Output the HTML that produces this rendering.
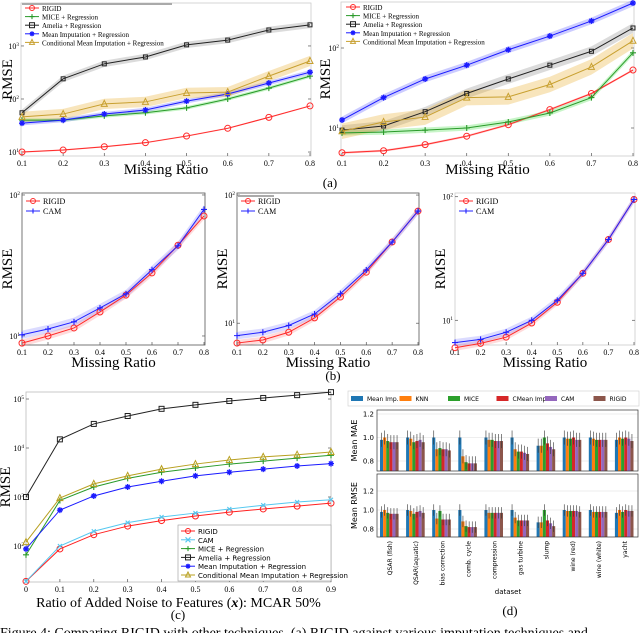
<!DOCTYPE html>
<html><head><meta charset="utf-8"><style>
html,body{margin:0;padding:0;background:#fff}
svg{display:block}
.serif{font-family:"Liberation Serif",serif}
.sans{font-family:"DejaVu Sans","Liberation Sans",sans-serif}
</style></head><body>
<svg id="fig" width="640" height="633" viewBox="0 0 640 633" xmlns="http://www.w3.org/2000/svg">
<text class="serif" x="330" y="187" font-size="13" text-anchor="middle">(a)</text>
<text class="serif" x="333" y="380" font-size="13" text-anchor="middle">(b)</text>
<text class="serif" x="178" y="619" font-size="13" text-anchor="middle">(c)</text>
<text class="serif" x="510" y="615" font-size="13" text-anchor="middle">(d)</text>
<text class="serif" x="0" y="637" font-size="14">Figure 4: Comparing RIGID with other techniques. (a) RIGID against various imputation techniques and</text>
</svg>
<script>
const ratios=[0.1,0.2,0.3,0.4,0.5,0.6,0.7,0.8];
const ratioLabels=["0.1","0.2","0.3","0.4","0.5","0.6","0.7","0.8"];
// (a) left
const aLRigid=[10,10.9,12.6,15,20,28,45,74];
const aLMice=[40,40,48,55,68,100,160,270];
const aLAmelia=[55,240,460,620,1050,1290,2000,2500];
const aLMean=[35,40,52,62,91,124,200,320];
const aLCmean=[46,52,81,88,130,135,270,520];
// (a) right
const aRRigid=[4.9,5.2,6.2,7.9,11,17,27,53];
const aRMice=[8.7,8.9,9.4,10,11.9,15.4,24,87];
const aRAmelia=[9.4,10.6,16,27,41,61,91,178];
const aRMean=[12.6,24,41,61,95,141,218,365];
const aRCmean=[9.1,11.9,13.7,24,24.5,35,58,123];
// (b)
const b1Rigid=[8.9,10,11.4,14.8,19.5,28,44,71];
const b1Cam=[10.2,11.2,12.6,15.8,19.9,29.5,43.6,79];
const b2Rigid=[7,7.4,8.5,11,16,25,43,75];
const b2Cam=[8,8.5,9.6,11.8,17,26,43,75];
const b3Rigid=[6,6.5,7.3,9.5,14,24,45,95];
const b3Cam=[6.6,7,8,10,14.5,24,45,95];
// (c)
const noise=[0,0.1,0.2,0.3,0.4,0.5,0.6,0.7,0.8,0.9];
const noiseLabels=["0","0.1","0.2","0.3","0.4","0.5","0.6","0.7","0.8","0.9"];
const cRigid=[19,87,170,255,330,410,490,570,650,750];
const cCam=[19,100,200,300,390,470,570,680,790,880];
const cMice=[66,850,1600,2400,3200,3900,4700,5400,6200,7100];
const cAmelia=[1000,15000,31000,45000,63000,76000,91000,105000,120000,138000];
const cMean=[87,540,1050,1600,2100,2700,3200,3700,4300,4800];
const cCmean=[120,950,1850,2700,3700,4700,5700,6600,7300,8300];
// (d)
const datasets=["QSAR (fish)","QSAR(aquatic)","bias correction","comb. cycle","compression","gas turbine","slump","wine (red)","wine (white)","yacht"];
const methods=["Mean Imp.","KNN","MICE","CMean Imp.","CAM","RIGID"];
const maeMean=[0.98,1.0,1.0,1.0,1.0,1.0,0.93,1.0,1.0,0.98];
const maeKnn=[1.0,0.99,0.90,0.84,0.98,0.90,0.93,0.99,0.99,1.0];
const maeMice=[0.97,0.96,0.91,0.79,0.98,0.88,1.0,0.99,0.98,0.99];
const maeCmean=[0.96,0.97,0.90,0.78,0.97,0.88,0.95,1.0,0.98,1.0];
const maeCam=[0.96,0.98,0.90,0.78,0.97,0.87,0.92,0.98,0.98,0.99];
const maeRigid=[0.96,0.96,0.89,0.78,0.97,0.86,0.90,0.98,0.98,0.97];
const rmseMean=[0.98,1.0,1.0,1.0,1.0,1.0,0.87,1.0,1.0,0.97];
const rmseKnn=[1.0,0.99,0.91,0.88,0.97,0.92,0.87,0.99,0.98,1.0];
const rmseMice=[0.97,0.96,0.99,0.83,0.97,0.89,1.0,0.99,0.98,0.98];
const rmseCmean=[0.96,0.98,0.90,0.82,0.97,0.89,0.89,0.99,0.98,1.0];
const rmseCam=[0.96,0.99,0.90,0.82,0.97,0.89,0.86,0.99,0.98,0.99];
const rmseRigid=[0.96,0.97,0.90,0.82,0.97,0.89,0.83,0.98,0.98,0.99];

const svg=document.getElementById('fig');
const NS='http://www.w3.org/2000/svg';
function mk(tag,attrs,parent){const e=document.createElementNS(NS,tag);for(const k in attrs)e.setAttribute(k,attrs[k]);(parent||svg).appendChild(e);return e;}
function logScale(lmin,lmax,top,bottom){return v=>bottom-(Math.log10(v)-lmin)/(lmax-lmin)*(bottom-top);}
function linScale(d0,d1,p0,p1){return v=>p0+(v-d0)/(d1-d0)*(p1-p0);}

function marker(g,type,x,y,color,s){
  s=s||3;
  if(type==='circle'){const m=mk('circle',{cx:x,cy:y,r:s,fill:'none',stroke:color,'stroke-width':1},g);}
  else if(type==='square'){const m=mk('rect',{x:x-s,y:y-s,width:2*s,height:2*s,fill:'none',stroke:color,'stroke-width':1},g);}
  else if(type==='tri'){const m=mk('polygon',{points:`${x},${y-s-0.5} ${x-s},${y+s-0.5} ${x+s},${y+s-0.5}`,fill:'none',stroke:color,'stroke-width':1},g);}
  else if(type==='plus'){const m=mk('path',{d:`M${x-s} ${y}H${x+s}M${x} ${y-s}V${y+s}`,stroke:color,'stroke-width':1.1},g);}
  else if(type==='x'){const m=mk('path',{d:`M${x-s} ${y-s}L${x+s} ${y+s}M${x-s} ${y+s}L${x+s} ${y-s}`,stroke:color,'stroke-width':1.1},g);}
  else if(type==='star'){const m=mk('path',{d:`M${x-s} ${y}H${x+s}M${x} ${y-s}V${y+s}M${x-s*0.7} ${y-s*0.7}L${x+s*0.7} ${y+s*0.7}M${x-s*0.7} ${y+s*0.7}L${x+s*0.7} ${y-s*0.7}`,stroke:color,'stroke-width':1.3},g);}
}
function powLabel(g,x,y,exp,size,anchor){
  const t=mk('text',{x:x,y:y,'font-size':size,'text-anchor':anchor||'end',class:'serif'},g);
  
  t.appendChild(document.createTextNode('10'));
  const ts=mk('tspan',{dy:-size*0.4,'font-size':size*0.65},t);ts.textContent=String(exp);
}

function linePanel(c){
  const g=mk('g',{});
  
  const X=linScale(c.xs[0],c.xs[c.xs.length-1],c.x0,c.x1);
  const Y=logScale(c.lmin,c.lmax,c.top,c.bottom);
  const fr=mk('rect',{x:c.fx0,y:c.top,width:c.fx1-c.fx0,height:c.bottom-c.top,fill:'none',stroke:c.frameColor||'#555','stroke-width':0.8},g);
  
  // y ticks
  for(let e=Math.ceil(c.lmin);e<=Math.floor(c.lmax);e++){
    const yy=Y(Math.pow(10,e));
    mk('line',{x1:c.fx0,x2:c.fx0+3,y1:yy,y2:yy,stroke:'#555','stroke-width':0.7},g);
    mk('line',{x1:c.fx1,x2:c.fx1-3,y1:yy,y2:yy,stroke:'#555','stroke-width':0.7},g);
    powLabel(g,c.fx0-2,yy+3,e,c.tickSize||9);
  }
  c.xs.forEach((v,i)=>{
    const xx=X(v);
    mk('line',{x1:xx,x2:xx,y1:c.bottom,y2:c.bottom-3,stroke:'#555','stroke-width':0.7},g);
    const t=mk('text',{x:xx,y:c.bottom+10,'font-size':c.tickSize||8,'text-anchor':'middle',class:'serif'},g);
    
    t.textContent=c.xlabels[i];
  });
  const xl=mk('text',{x:(c.fx0+c.fx1)/2,y:c.xlabelY,'font-size':c.xlabelSize||15,'text-anchor':'middle',class:'serif'},g);
  
  if(c.xlabelHTML){xl.innerHTML=c.xlabelHTML;}else xl.textContent=c.xlabel;
  const yl=mk('text',{x:0,y:0,'font-size':15,'text-anchor':'middle',class:'serif',transform:`translate(${c.ylabelX},${(c.top+c.bottom)/2}) rotate(-90)`},g);
  
  yl.textContent='RMSE';
  // bands
  c.series.forEach(s=>{
    if(!s.band)return;
    const up=s.vals.map((v,i)=>`${X(c.xs[i])},${Y(v*s.band)}`);
    const dn=s.vals.map((v,i)=>`${X(c.xs[i])},${Y(v/s.band)}`).reverse();
    const b=mk('polygon',{points:up.concat(dn).join(' '),fill:s.bandColor||s.color,'fill-opacity':0.3,stroke:'none'},g);
    
  });
  c.series.forEach(s=>{
    const pl=mk('polyline',{points:s.vals.map((v,i)=>`${X(c.xs[i])},${Y(v)}`).join(' '),fill:'none',stroke:s.color,'stroke-width':1},g);
    
    s.vals.forEach((v,i)=>marker(g,s.marker,X(c.xs[i]),Y(v),s.color,s.ms));
  });
  // legend
  if(c.legend){
    const L=c.legend;
    const lg=mk('g',{},g);
    if(L.box){const r=mk('rect',{x:L.x,y:L.y,width:L.w,height:L.h,fill:'#fff',stroke:'#999','stroke-width':0.6},lg);}
    if(L.topLine){mk('line',{x1:L.x,x2:L.x+L.topLine,y1:L.y,y2:L.y,stroke:'#aaa','stroke-width':2},lg);}
    c.series.forEach((s,i)=>{
      const yy=L.y+L.pad+i*L.dy;
      const e=mk('g',{},lg);
      mk('line',{x1:L.x+3,x2:L.x+17,y1:yy,y2:yy,stroke:s.color,'stroke-width':1},e);
      marker(e,s.marker,L.x+10,yy,s.color,2.5);
      const t=mk('text',{x:L.x+20,y:yy+3,'font-size':L.fs,class:L.cls||'serif'},e);t.textContent=s.label;
    });
  }
}
const RED='#ff2a2a',GRN='#2a9a2a',BLK='#222',BLU='#1a1aff',GLD='#c8a030',CAMB='#2020ff';
const labsA=["RIGID","MICE + Regression","Amelia + Regression","Mean Imputation + Regression","Conditional Mean Imputation + Regression"];
function aSeries(r,m,a,me,cm){return [
 {key:'rigid',label:labsA[0],vals:r,color:RED,marker:'circle',band:1.03},
 {key:'mice',label:labsA[1],vals:m,color:GRN,marker:'plus',band:1.08,bandColor:'#44dd44'},
 {key:'amelia',label:labsA[2],vals:a,color:BLK,marker:'square',band:1.15,bandColor:'#888',ms:2},
 {key:'mean',label:labsA[3],vals:me,color:BLU,marker:'star',band:1.1,bandColor:'#5555ff'},
 {key:'cmean',label:labsA[4],vals:cm,color:GLD,marker:'tri',band:1.25,bandColor:'#e8a820'}];}
linePanel({name:'panel-a-left',xs:ratios,xlabels:ratioLabels,x0:22,x1:310,fx0:21,fx1:311,top:3,bottom:156,lmin:0.925,lmax:3.81,frameColor:'#ccc',
 series:aSeries(aLRigid,aLMice,aLAmelia,aLMean,aLCmean),xlabel:'Missing Ratio',xlabelY:174,ylabelX:12,tickSize:8,
 legend:{x:22,y:4,pad:4,dy:8.6,fs:7,topLine:150}});
linePanel({name:'panel-a-right',xs:ratios,xlabels:ratioLabels,x0:342,x1:633,fx0:341,fx1:634,top:2,bottom:156,lmin:0.65,lmax:2.575,frameColor:'#ccc',
 series:aSeries(aRRigid,aRMice,aRAmelia,aRMean,aRCmean),xlabel:'Missing Ratio',xlabelY:174,ylabelX:330,tickSize:8,
 legend:{x:343,y:3,pad:4,dy:8.6,fs:7}});
function bSeries(r,c){return [
 {key:'rigid',label:'RIGID',vals:r,color:RED,marker:'circle',band:1.06,bandColor:'#ff8888'},
 {key:'cam',label:'CAM',vals:c,color:CAMB,marker:'plus',band:1.07,bandColor:'#8888ff'}];}
linePanel({name:'panel-b-1',xs:ratios,xlabels:ratioLabels,x0:22,x1:204,fx0:22,fx1:205,top:193,bottom:345,lmin:0.936,lmax:2.014,
 series:bSeries(b1Rigid,b1Cam),xlabel:'Missing Ratio',xlabelY:367,ylabelX:12,tickSize:8,legend:{x:23,y:196,pad:5,dy:10,fs:8}});
linePanel({name:'panel-b-2',xs:ratios,xlabels:ratioLabels,x0:237,x1:418,fx0:237,fx1:419,top:193,bottom:345,lmin:0.83,lmax:2.016,
 series:bSeries(b2Rigid,b2Cam),xlabel:'Missing Ratio',xlabelY:367,ylabelX:227,tickSize:8,legend:{x:238,y:196,pad:5,dy:10,fs:8,topLine:36}});
linePanel({name:'panel-b-3',xs:ratios,xlabels:ratioLabels,x0:455,x1:634,fx0:455,fx1:635,top:193,bottom:345,lmin:0.8,lmax:2.03,frameColor:'#ccc',
 series:bSeries(b3Rigid,b3Cam),xlabel:'Missing Ratio',xlabelY:367,ylabelX:445,tickSize:8,legend:{x:456,y:196,pad:5,dy:10,fs:8}});
linePanel({name:'panel-c',xs:noise,xlabels:noiseLabels,x0:26,x1:331,fx0:26,fx1:331,top:392,bottom:582,lmin:1.265,lmax:5.143,frameColor:'#bbb',
 series:[
  {key:'rigid',label:'RIGID',vals:cRigid,color:'#ff2020',marker:'circle'},
  {key:'cam',label:'CAM',vals:cCam,color:'#55c8f0',marker:'x',ms:2},
  {key:'mice',label:'MICE + Regression',vals:cMice,color:'#2a9a2a',marker:'plus'},
  {key:'amelia',label:'Amelia + Regression',vals:cAmelia,color:'#222',marker:'square',ms:2.5},
  {key:'mean',label:'Mean Imputation + Regression',vals:cMean,color:'#1a1aff',marker:'star'},
  {key:'cmean',label:'Conditional Mean Imputation + Regression',vals:cCmean,color:'#b8a020',marker:'tri'}],
 xlabelHTML:'Ratio of Added Noise to Features (<tspan font-weight="bold" font-style="italic">x</tspan>): MCAR 50%',xlabelY:607,xlabelSize:14,ylabelX:10,tickSize:8,
 legend:{x:178,y:525,w:153,h:56,pad:6,dy:8.8,fs:7,box:true,cls:'sans'}});

// (d) bar chart
(function(){
  const g=mk('g',{});
  const colors=['#1f77b4','#ff7f0e','#2ca02c','#d62728','#9467bd','#8c564b'];
  const x0=377,x1=638,gw=(x1-x0)/datasets.length,bw=3.1;
  // legend
  const lg=mk('g',{},g);
  mk('rect',{x:348,y:391,width:291,height:15,fill:'#fff',stroke:'#ccc','stroke-width':0.6},lg);
  methods.forEach((m,i)=>{
    const lx=351+i*48.5;
    const e=mk('g',{},lg);
    mk('rect',{x:lx,y:396,width:12,height:5,fill:colors[i]},e);
    const t=mk('text',{x:lx+16,y:401,'font-size':6,class:'sans'},e);t.textContent=m;
  });
  const panels=[
    {name:'mae-panel',top:410,bottom:471,vals:[maeMean,maeKnn,maeMice,maeCmean,maeCam,maeRigid],label:'Mean MAE',ticks:[0.8,1.0,1.2],Y:linScale(0.8,1.2,461,414)},
    {name:'rmse-panel',top:474,bottom:537,vals:[rmseMean,rmseKnn,rmseMice,rmseCmean,rmseCam,rmseRigid],label:'Mean RMSE',ticks:[0.8,1.0,1.2],Y:linScale(0.8,1.2,529,491)}];
  panels.forEach(p=>{
    const pg=mk('g',{},g);
    p.ticks.forEach(t=>{
      const yy=p.Y(t);
      mk('line',{x1:x0,x2:x1,y1:yy,y2:yy,stroke:'#ddd','stroke-width':0.6},pg);
      const tl=mk('text',{x:x0-3,y:yy+2.5,'font-size':7,'text-anchor':'end',class:'sans'},pg);
      
      tl.textContent=t.toFixed(1);
    });
    const yl=mk('text',{x:0,y:0,'font-size':8,'text-anchor':'middle',class:'sans',transform:`translate(${357},${(p.top+p.bottom)/2}) rotate(-90)`},pg);
    yl.textContent=p.label;
    datasets.forEach((d,di)=>{
      p.vals.forEach((arr,mi)=>{
        const v=arr[di];const bx=x0+di*gw+3+mi*bw;const yy=p.Y(v);
        const r=mk('rect',{x:bx,y:yy,width:bw,height:p.bottom-yy,fill:colors[mi]},pg);
        
        mk('line',{x1:bx+bw/2,x2:bx+bw/2,y1:p.Y(v+0.06),y2:p.Y(v-0.06),stroke:'#333','stroke-width':0.6},pg);
      });
    });
    mk('rect',{x:x0,y:p.top,width:x1-x0,height:p.bottom-p.top,fill:'none',stroke:'#333','stroke-width':0.7},pg);
  });
  datasets.forEach((d,di)=>{
    const cx=x0+di*gw+gw/2;
    const t=mk('text',{x:0,y:0,'font-size':6,'text-anchor':'end',class:'sans',transform:`translate(${cx+2},${541}) rotate(-90)`},g);
    
    t.textContent=d;
  });
  const xt=mk('text',{x:508,y:594,'font-size':7,'text-anchor':'middle',class:'sans'},g);
  xt.textContent='dataset';
})();
</script>
</body></html>
